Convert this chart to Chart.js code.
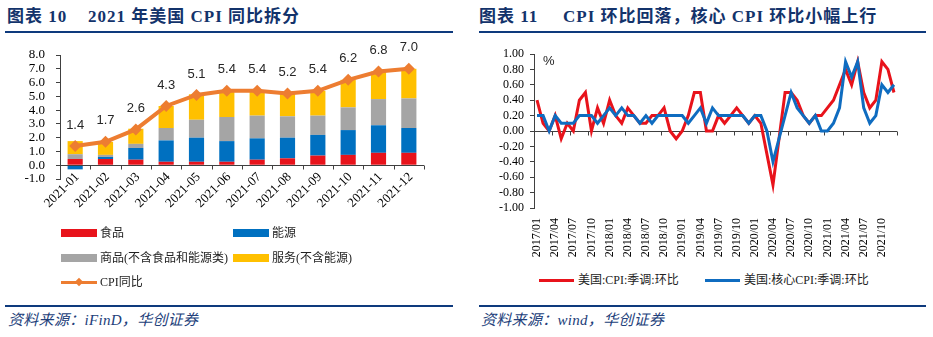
<!DOCTYPE html>
<html><head><meta charset="utf-8">
<script src="https://cdn.jsdelivr.net/npm/chart.js@4.4.1/dist/chart.umd.min.js"></script>
<style>
body{margin:0;width:933px;height:337px;background:#fff;position:relative;overflow:hidden;font-family:"Liberation Serif","Noto Sans CJK SC",serif;}
.abs{position:absolute;}
.title{font-weight:bold;color:#13336b;font-size:17px;letter-spacing:1px;white-space:nowrap;top:5px;line-height:24px;font-family:"Liberation Serif","Noto Sans CJK SC",serif;}
.rule{height:2px;background:#0e3a7d;}
.src{font-style:italic;color:#22407a;font-size:15px;letter-spacing:0.3px;white-space:nowrap;top:310px;line-height:20px;font-family:"Liberation Serif","Noto Sans CJK SC",serif;}
.leg{font-size:12px;color:#222;white-space:nowrap;line-height:14px;font-family:"Liberation Serif","Noto Sans CJK SC",serif;}
.pct{font-family:"Liberation Sans",sans-serif;font-size:13px;color:#222;line-height:14px;}
</style></head>
<body>
<div class="abs title" style="left:7px">图表 10</div>
<div class="abs title" style="left:88px">2021 年美国 CPI 同比拆分</div>
<div class="abs rule" style="left:5px;top:31px;width:448px"></div>
<div class="abs title" style="left:479px">图表 11</div>
<div class="abs title" style="left:563px">CPI 环比回落，核心 CPI 环比小幅上行</div>
<div class="abs rule" style="left:479px;top:31px;width:447px"></div>

<div class="abs" style="left:0;top:28px;width:460px;height:200px"><canvas id="cL" width="460" height="200"></canvas></div>
<div class="abs" style="left:466px;top:40px;width:467px;height:225px"><canvas id="cR" width="467" height="225"></canvas></div>
<div class="abs pct" style="left:543px;top:54px">%</div>

<!-- left legend -->
<div class="abs" style="left:61px;top:229px;width:36px;height:8px;background:#E8131B"></div>
<div class="abs leg" style="left:100px;top:226px">食品</div>
<div class="abs" style="left:233px;top:229px;width:36px;height:8px;background:#0070C0"></div>
<div class="abs leg" style="left:272px;top:226px">能源</div>
<div class="abs" style="left:61px;top:254px;width:36px;height:8px;background:#A5A5A5"></div>
<div class="abs leg" style="left:100px;top:251px">商品(不含食品和能源类)</div>
<div class="abs" style="left:233px;top:254px;width:36px;height:8px;background:#FFC000"></div>
<div class="abs leg" style="left:272px;top:251px">服务(不含能源)</div>
<div class="abs" style="left:61px;top:281px;width:36px;height:3px;background:#ED7D31"></div>
<div class="abs" style="left:76px;top:279px;width:6px;height:6px;background:#ED7D31;transform:rotate(45deg)"></div>
<div class="abs leg" style="left:100px;top:275px">CPI同比</div>

<!-- right legend -->
<div class="abs" style="left:539px;top:279px;width:35px;height:3px;background:#E8131B"></div>
<div class="abs leg" style="left:578px;top:273px">美国:CPI:季调:环比</div>
<div class="abs" style="left:705px;top:279px;width:35px;height:3px;background:#0F6CC0"></div>
<div class="abs leg" style="left:744px;top:273px">美国:核心CPI:季调:环比</div>

<div class="abs rule" style="left:5px;top:305px;width:448px"></div>
<div class="abs rule" style="left:479px;top:305px;width:447px"></div>
<div class="abs src" style="left:8px">资料来源：iFinD，华创证券</div>
<div class="abs src" style="left:481px">资料来源：wind，华创证券</div>

<script>
// ---- left chart data ----
const months = ['2021-01','2021-02','2021-03','2021-04','2021-05','2021-06','2021-07','2021-08','2021-09','2021-10','2021-11','2021-12'];
const food      = [0.45,0.45,0.40,0.25,0.25,0.25,0.40,0.50,0.70,0.75,0.90,0.90];
const energy    = [-0.30,0.15,0.85,1.55,1.75,1.50,1.55,1.50,1.50,1.80,2.00,1.80];
const coreGoods = [0.35,0.15,0.30,0.90,1.30,1.75,1.65,1.55,1.40,1.65,1.90,2.15];
const services  = [0.95,0.95,1.10,1.60,1.85,1.90,1.80,1.65,1.80,2.00,2.00,2.15];
const cpiYoY    = [1.4,1.7,2.6,4.3,5.1,5.4,5.4,5.2,5.4,6.2,6.8,7.0];

// ---- right chart data ----
const monthsR = [
'2017/01','2017/02','2017/03','2017/04','2017/05','2017/06','2017/07','2017/08','2017/09','2017/10','2017/11','2017/12',
'2018/01','2018/02','2018/03','2018/04','2018/05','2018/06','2018/07','2018/08','2018/09','2018/10','2018/11','2018/12',
'2019/01','2019/02','2019/03','2019/04','2019/05','2019/06','2019/07','2019/08','2019/09','2019/10','2019/11','2019/12',
'2020/01','2020/02','2020/03','2020/04','2020/05','2020/06','2020/07','2020/08','2020/09','2020/10','2020/11','2020/12',
'2021/01','2021/02','2021/03','2021/04','2021/05','2021/06','2021/07','2021/08','2021/09','2021/10','2021/11','2021/12'];
const cpiMoM = [
0.4,0.1,0.0,0.2,-0.1,0.1,0.0,0.4,0.5,0.0,0.3,0.1,
0.4,0.2,0.1,0.3,0.2,0.1,0.1,0.2,0.2,0.3,0.0,-0.1,
0.0,0.2,0.5,0.5,0.0,0.0,0.2,0.1,0.2,0.3,0.2,0.1,
0.2,0.1,-0.3,-0.7,-0.1,0.5,0.5,0.4,0.2,0.1,0.2,0.2,
0.3,0.4,0.6,0.8,0.6,0.9,0.5,0.3,0.4,0.9,0.8,0.5];
const coreMoM = [
0.2,0.2,0.0,0.2,0.1,0.1,0.1,0.2,0.2,0.2,0.1,0.2,
0.3,0.2,0.3,0.2,0.2,0.1,0.2,0.1,0.2,0.2,0.2,0.2,
0.2,0.1,0.2,0.3,0.1,0.3,0.2,0.2,0.2,0.2,0.2,0.1,
0.2,0.2,0.0,-0.4,-0.1,0.2,0.5,0.3,0.2,0.1,0.2,0.0,
0.0,0.1,0.3,0.9,0.7,0.9,0.3,0.1,0.2,0.6,0.5,0.6];

const serif = 'Liberation Serif';
const axisColor = '#404040';

const zeroAxis = {
  id:'zeroAxis',
  draw(chart, o){
    const xs = chart.scales.x, ys = chart.scales.y, c = chart.ctx;
    const y0 = Math.round(ys.getPixelForValue(0)) + 0.5;
    const n = chart.data.labels.length;
    c.save(); c.strokeStyle = axisColor; c.lineWidth = 1; c.beginPath();
    c.moveTo(xs.left, y0); c.lineTo(xs.right, y0);
    for (let i = 0; i <= n; i += o.every) {
      const x = Math.round(xs.left + i * (xs.right - xs.left) / n) + 0.5;
      c.moveTo(x, y0); c.lineTo(x, y0 + 4);
    }
    c.stroke(); c.restore();
  },
  beforeDatasetsDraw(chart, a, o){ if (!o.after) this.draw(chart, o); },
  afterDatasetsDraw(chart, a, o){ if (o.after) this.draw(chart, o); }
};

const valueLabels = {
  id:'valueLabels',
  afterDatasetsDraw(chart){
    const meta = chart.getDatasetMeta(0), ds = chart.data.datasets[0], c = chart.ctx;
    c.save(); c.font = '13px "Liberation Sans"'; c.fillStyle = '#262626';
    c.textAlign = 'center'; c.textBaseline = 'middle';
    meta.data.forEach((p, i) => c.fillText(ds.data[i].toFixed(1), p.x, p.y - 21));
    c.restore();
  }
};

// rotated category labels for the left chart, placed with the x scale's own tick pixels
const slantLabels = {
  id:'slantLabels',
  afterDraw(chart){
    const xs = chart.scales.x, c = chart.ctx;
    c.save(); c.font = '13px "Liberation Serif"'; c.fillStyle = '#000';
    c.textAlign = 'right'; c.textBaseline = 'middle';
    chart.data.labels.forEach((lab, i) => {
      c.save();
      c.translate(xs.getPixelForTick(i) + 2, xs.top - 4);
      c.rotate(-Math.PI / 4);
      c.fillText(lab, 0, 0);
      c.restore();
    });
    c.restore();
  }
};

new Chart(document.getElementById('cL'), {
  type:'bar',
  data:{ labels: months, datasets:[
    {type:'line', label:'CPI同比', data:cpiYoY, borderColor:'#ED7D31', backgroundColor:'#ED7D31',
     borderWidth:4, pointStyle:'rectRot', pointRadius:6, pointBorderWidth:0, pointBackgroundColor:'#ED7D31', order:0, tension:0},
    {label:'食品', data:food, backgroundColor:'#E8131B', stack:'s', order:1},
    {label:'能源', data:energy, backgroundColor:'#0070C0', stack:'s', order:1},
    {label:'商品(不含食品和能源类)', data:coreGoods, backgroundColor:'#A5A5A5', stack:'s', order:1},
    {label:'服务(不含能源)', data:services, backgroundColor:'#FFC000', stack:'s', order:1}
  ]},
  options:{
    responsive:false, animation:false, devicePixelRatio:1,
    layout:{padding:{top:27,right:36,left:0,bottom:0}},
    datasets:{bar:{barPercentage:0.5, categoryPercentage:1}},
    plugins:{legend:{display:false}, tooltip:{enabled:false}, zeroAxis:{every:1, after:true}},
    scales:{
      x:{stacked:true, grid:{display:false, drawTicks:false}, border:{display:false},
         ticks:{display:false},
         afterFit(s){ s.height = 49; }},
      y:{stacked:true, min:-1, max:8,
         ticks:{stepSize:1, autoSkip:false, callback:v=>v.toFixed(1), font:{family:serif,size:13}, color:'#000', padding:11},
         grid:{drawOnChartArea:false, tickLength:4, tickColor:axisColor, color:axisColor},
         border:{display:true, color:axisColor},
         afterFit(s){ s.width = 60; }}
    }
  },
  plugins:[zeroAxis, valueLabels, slantLabels]
});

new Chart(document.getElementById('cR'), {
  type:'line',
  data:{ labels: monthsR, datasets:[
    {label:'美国:CPI:季调:环比', data:cpiMoM, borderColor:'#E8131B', borderWidth:3, pointRadius:0, tension:0, order:1},
    {label:'美国:核心CPI:季调:环比', data:coreMoM, borderColor:'#0F6CC0', borderWidth:3, pointRadius:0, tension:0, order:0}
  ]},
  options:{
    responsive:false, animation:false, devicePixelRatio:1,
    layout:{padding:{top:14,right:36,left:0,bottom:0}},
    plugins:{legend:{display:false}, tooltip:{enabled:false}, zeroAxis:{every:3, after:false}},
    scales:{
      x:{offset:true, grid:{display:false, drawTicks:false}, border:{display:false},
         ticks:{autoSkip:false, minRotation:90, maxRotation:90, padding:10,
                callback(v,i){ return i % 3 === 0 ? this.getLabelForValue(v) : ''; },
                font:{family:serif,size:12}, color:'#000'},
         afterFit(s){ s.height = 57; }},
      y:{min:-1, max:1,
         ticks:{stepSize:0.2, autoSkip:false, callback:v=>(Math.abs(v)<1e-9?0:v).toFixed(2), font:{family:serif,size:12}, color:'#000', padding:6},
         grid:{drawOnChartArea:false, tickLength:4, tickColor:axisColor, color:axisColor},
         border:{display:true, color:axisColor},
         afterFit(s){ s.width = 68; }}
    }
  },
  plugins:[zeroAxis]
});
</script>
</body></html>
